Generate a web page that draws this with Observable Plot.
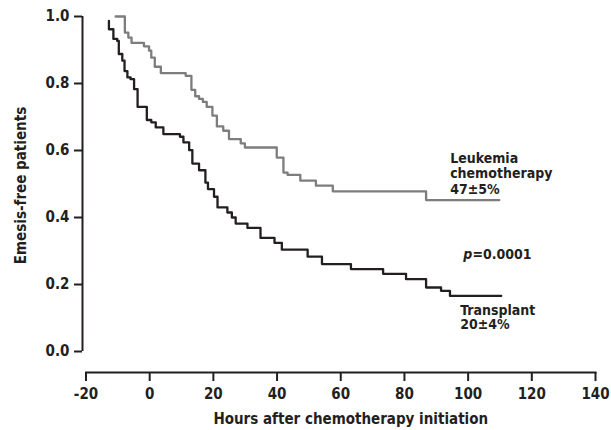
<!DOCTYPE html>
<html><head><meta charset="utf-8">
<script src="https://cdn.jsdelivr.net/npm/d3@7"></script>
<script src="https://cdn.jsdelivr.net/npm/@observablehq/plot@0.6"></script>
<style>body{margin:0;background:#fff}</style>
</head><body><div id="chart"></div>
<script>
// Leukemia chemotherapy (gray) Kaplan–Meier steps
const leukTime = [-10.7, -7.8, -6.7, -5.7, -1.8, -0.2, 0.5, 1.6, 3.5, 11.3, 13.1, 14.3, 15.5, 16.7, 17.9, 19.7, 21.1, 23.1, 24.9, 28.6, 29.9, 39.9, 42.0, 43.3, 47.3, 52.2, 57.5, 86.8, 109.8];
const leukSurv = [1.0, 0.952, 0.937, 0.921, 0.911, 0.898, 0.877, 0.850, 0.831, 0.823, 0.781, 0.762, 0.754, 0.745, 0.730, 0.704, 0.672, 0.659, 0.634, 0.621, 0.609, 0.579, 0.534, 0.527, 0.510, 0.495, 0.478, 0.452, 0.452];
// Transplant (black)
const transTime = [-12.8, -12.8, -11.4, -10.2, -9.7, -8.6, -7.9, -7.0, -6.0, -4.9, -3.8, -0.9, 0.5, 1.9, 4.3, 9.5, 10.6, 12.4, 13.4, 15.5, 17.5, 18.3, 20.2, 21.3, 24.4, 25.8, 27.0, 30.7, 34.8, 39.2, 41.5, 49.6, 54.1, 63.2, 73.3, 80.5, 86.8, 91.5, 94.3, 110.4];
const transSurv = [0.987, 0.962, 0.933, 0.927, 0.888, 0.868, 0.837, 0.818, 0.813, 0.783, 0.730, 0.691, 0.684, 0.669, 0.649, 0.641, 0.624, 0.601, 0.561, 0.541, 0.504, 0.485, 0.462, 0.430, 0.415, 0.400, 0.382, 0.369, 0.339, 0.324, 0.304, 0.283, 0.261, 0.246, 0.232, 0.216, 0.191, 0.181, 0.166, 0.166];

const xTicks = [-20, 0, 20, 40, 60, 80, 100, 120, 140];
const yTicks = [0, 0.2, 0.4, 0.6, 0.8, 1.0];
const xTitle = "Hours after chemotherapy initiation";
const yTitle = "Emesis-free patients";
const leukLabel = "Leukemia\nchemotherapy\n47±5%";
const transLabel = "Transplant\n20±4%";
const pLabel = "p=0.0001";

const leuk = leukTime.map((t, i) => ({t, s: leukSurv[i]}));
const trans = transTime.map((t, i) => ({t, s: transSurv[i]}));

const ink = "#231f20";
const font = '"DejaVu Sans Condensed", "Liberation Sans Narrow", sans-serif';

const chart = Plot.plot({
  width: 611, height: 430,
  marginLeft: 85.5, marginRight: 16, marginTop: 16, marginBottom: 58,
  x: {domain: [-20, 140]},
  y: {domain: [0, 1], range: [351, 16]},
  style: {fontFamily: font, fontWeight: "bold", fontSize: "15px", background: "#fff", color: ink, overflow: "visible"},
  marks: [
    Plot.frame({anchor: "bottom", stroke: ink, strokeWidth: 2}),
    Plot.ruleX([-21.1], {y1: () => 0, y2: () => 1, stroke: ink, strokeWidth: 2}),
    Plot.axisY({ticks: yTicks, tickFormat: d3.format(".1f"), tickSize: 8, tickPadding: 5, dx: -3.5, strokeWidth: 2, label: null, fontSize: 15}),
    Plot.axisX({ticks: xTicks, tickFormat: d => String(d), tickSize: 9, tickPadding: 7, strokeWidth: 2, label: null, fontSize: 15}),
    Plot.line(leuk, {x: "t", y: "s", curve: "step-after", stroke: "#7d7d7d", strokeWidth: 2.3}),
    Plot.line(trans, {x: "t", y: "s", curve: "step-after", stroke: ink, strokeWidth: 2.3}),
    Plot.text([xTitle], {frameAnchor: "bottom", lineAnchor: "bottom", dy: 51, dx: 10, fontSize: 15, fill: ink}),
    Plot.text([yTitle], {frameAnchor: "left", y: () => 0.4955, rotate: -90, dx: -64.8, textAnchor: "middle", fontSize: 15, fill: ink}),
    Plot.text([leukLabel], {x: () => 94.35, y: () => 0.5955, textAnchor: "start", lineAnchor: "top", lineHeight: 1.1, fontSize: 14, fill: ink}),
    Plot.text([transLabel], {x: () => 97.5, y: () => 0.1415, textAnchor: "start", lineAnchor: "top", lineHeight: 1.05, fontSize: 14, fill: ink}),
    Plot.text([pLabel], {x: () => 98.5, y: () => 0.2767, textAnchor: "start", lineAnchor: "bottom", fontSize: 14, fill: ink})
  ]
});
// italicise the "p" of the p-value while keeping it one text element
d3.select(chart).selectAll("text").filter(function () { return this.textContent === pLabel; }).each(function () {
  const el = d3.select(this);
  el.text(null);
  el.append("tspan").attr("font-style", "italic").text(pLabel.slice(0, 1));
  el.append("tspan").text(pLabel.slice(1));
});
document.getElementById("chart").appendChild(chart);
</script>
</body></html>
